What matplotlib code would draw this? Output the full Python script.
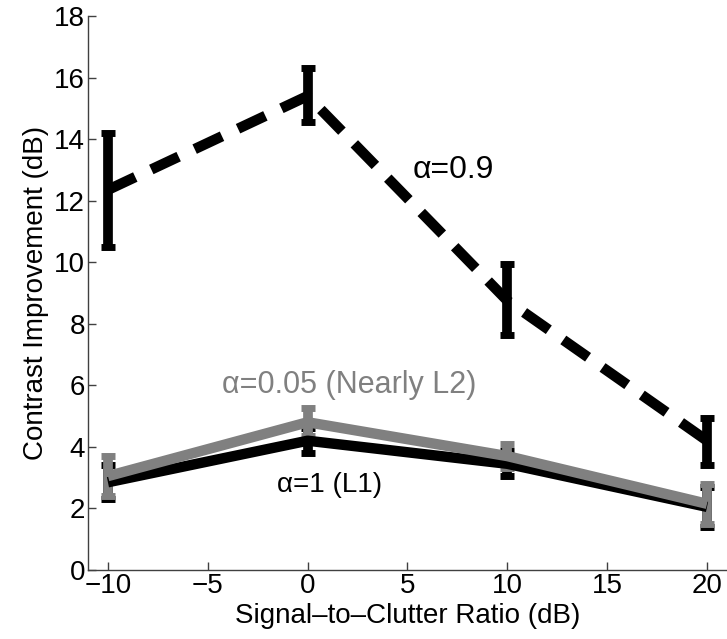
import matplotlib
matplotlib.use("Agg")
import matplotlib.pyplot as plt

plt.rcParams['font.family'] = ['Liberation Sans', 'DejaVu Sans']

# relacion senal-clutter (dB)
scr = [-10, 0, 10, 20]

# alpha = 0.9 (linea discontinua)
ci_09 = [12.35, 15.4, 8.75, 4.2]
err_09_lo = [1.85, 0.85, 1.1, 0.8]
err_09_hi = [1.85, 0.9, 1.2, 0.75]

# alpha = 0.05 (casi L2)
ci_005 = [3.05, 4.8, 3.7, 2.15]
err_005 = [0.65, 0.45, 0.4, 0.65]

# alpha = 1 (L1)
ci_1 = [2.85, 4.2, 3.45, 2.05]
err_1 = [0.55, 0.4, 0.4, 0.65]

fig = plt.figure(figsize=(7.27, 6.39), dpi=100)
ax = fig.add_axes([0.121, 0.108, 0.879, 0.867])

ax.errorbar(scr, ci_1, yerr=err_1, color='black', lw=7.5, elinewidth=7,
            capsize=5, capthick=5, solid_capstyle='butt')
ax.errorbar(scr, ci_005, yerr=err_005, color='#808080', lw=7.5, elinewidth=7,
            capsize=5, capthick=5, solid_capstyle='butt')
linea, caps, barras = ax.errorbar(scr, ci_09, yerr=[err_09_lo, err_09_hi],
                                  color='black', lw=7.5, elinewidth=7,
                                  capsize=5, capthick=5, ls='--')
linea.set_dashes([2.9, 1.7])
linea.set_dash_capstyle('butt')

ax.text(7.3, 13.0, 'α=0.9', fontsize=23, ha='center', va='center')
ax.text(2.1, 6.0, 'α=0.05 (Nearly L2)', fontsize=22, color='#808080',
        ha='center', va='center')
ax.text(1.1, 2.75, 'α=1 (L1)', fontsize=20, ha='center', va='center')

ax.set_xlim(-11, 21)
ax.set_ylim(0, 18)
ax.set_xticks([-10, -5, 0, 5, 10, 15, 20])
ax.set_xticklabels(['\u221210', '\u22125', '0', '5', '10', '15', '20'])
ax.set_yticks(range(0, 19, 2))
ax.tick_params(direction='in', length=6, width=1, labelsize=20,
               color='#404040', pad=2)
for s in ['top', 'right']:
    ax.spines[s].set_visible(False)
for s in ['left', 'bottom']:
    ax.spines[s].set_color('#404040')
    ax.spines[s].set_linewidth(1)

ax.set_xlabel('Signal\u2013to\u2013Clutter Ratio (dB)', fontsize=20, labelpad=3)
ax.set_ylabel('Contrast Improvement (dB)', fontsize=20, labelpad=4)

fig.savefig('out.png', dpi=100)
